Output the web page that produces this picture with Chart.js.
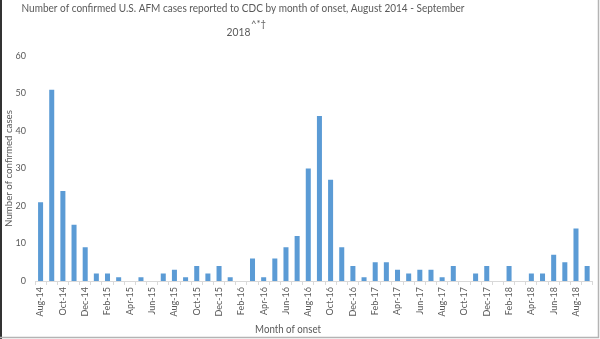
<!DOCTYPE html>
<html>
<head>
<meta charset="utf-8">
<script src="https://cdn.jsdelivr.net/npm/chart.js@4"></script>
<style>
  html, body { margin: 0; padding: 0; background: #fff; }
  #wrap { position: relative; width: 600px; height: 339px; }
</style>
</head>
<body>
<div id="wrap"><canvas id="afmChart"></canvas></div>
<script>
// Aug 2014 .. Sep 2018, one bar per month
const months = [
  "Aug-14", "Sep-14", "Oct-14", "Nov-14", "Dec-14",
  "Jan-15", "Feb-15", "Mar-15", "Apr-15", "May-15", "Jun-15", "Jul-15", "Aug-15", "Sep-15", "Oct-15", "Nov-15", "Dec-15",
  "Jan-16", "Feb-16", "Mar-16", "Apr-16", "May-16", "Jun-16", "Jul-16", "Aug-16", "Sep-16", "Oct-16", "Nov-16", "Dec-16",
  "Jan-17", "Feb-17", "Mar-17", "Apr-17", "May-17", "Jun-17", "Jul-17", "Aug-17", "Sep-17", "Oct-17", "Nov-17", "Dec-17",
  "Jan-18", "Feb-18", "Mar-18", "Apr-18", "May-18", "Jun-18", "Jul-18", "Aug-18", "Sep-18"
];
const cases = [
  21, 51, 24, 15, 9,
  2, 2, 1, 0, 1, 0, 2, 3, 1, 4, 2, 4,
  1, 0, 6, 1, 6, 9, 12, 30, 44, 27, 9, 4,
  1, 5, 5, 3, 2, 3, 3, 1, 4, 0, 2, 4,
  0, 4, 0, 2, 2, 7, 5, 14, 4
];
const yTicks = [0, 10, 20, 30, 40, 50, 60];

const titleLine1 = "Number of confirmed U.S. AFM cases reported to CDC by month of onset, August 2014 - September";
const titleLine2 = "2018";
const titleSup = "^*\u2020";
const xTitle = "Month of onset";
const yTitle = "Number of confirmed cases";

const textColor = "#595959";
const fontFamily = "Lato, 'Open Sans', sans-serif";

// draw text centred at cx, squeezed horizontally (Lato is wider than the original's Calibri)
function narrowText(c, str, cx, cy, font, sx) {
  c.save();
  c.font = font;
  c.textAlign = "center";
  c.textBaseline = "middle";
  c.translate(cx, cy);
  c.scale(sx, 1);
  c.fillText(str, 0, 0);
  c.restore();
}

// title, x axis title and frame drawn by hand so they sit where the original has them
const decorPlugin = {
  id: "decor",
  afterDraw(chart) {
    const c = chart.ctx;
    const big = "11.8px " + fontFamily;
    const sup = "9.5px " + fontFamily;
    c.save();
    c.fillStyle = textColor;
    narrowText(c, titleLine1, 243, 8, big, 0.85);

    c.font = big;
    const w2 = c.measureText(titleLine2).width * 0.87;
    c.font = sup;
    const ws = c.measureText(titleSup).width;
    const x0 = 246 - (w2 + ws) / 2;
    narrowText(c, titleLine2, x0 + w2 / 2, 32, big, 0.87);
    narrowText(c, titleSup, x0 + w2 + 0.5 + ws / 2, 24, sup, 1);

    narrowText(c, xTitle, 288, 329, "11px " + fontFamily, 0.88);

    // frame
    c.strokeStyle = "#333";
    c.lineWidth = 2;
    c.beginPath();
    c.moveTo(1, 0);
    c.lineTo(1, 339);
    c.stroke();
    c.strokeStyle = "#b4b4b4";
    c.lineWidth = 1.5;
    c.beginPath();
    c.moveTo(0, 337.5);
    c.lineTo(598.5, 337.5);
    c.lineTo(598.5, 0);
    c.stroke();
    c.restore();
  }
};

new Chart(document.getElementById("afmChart"), {
  type: "bar",
  data: {
    labels: months,
    datasets: [{
      label: "Cases",
      data: cases,
      backgroundColor: "#5b9bd5",
      borderWidth: 0,
      barPercentage: 0.45,
      categoryPercentage: 1.0
    }]
  },
  options: {
    responsive: true,
    maintainAspectRatio: false,
    animation: false,
    layout: { padding: { top: 56, right: 6, left: 0, bottom: 0 } },
    plugins: {
      legend: { display: false },
      title: { display: false },
      tooltip: { enabled: false }
    },
    scales: {
      x: {
        afterFit: (s) => { s.height = 58; },
        grid: {
          offset: true,
          drawOnChartArea: false,
          drawTicks: true,
          tickLength: 4,
          color: "#d9d9d9"
        },
        border: { color: "#d9d9d9", width: 1 },
        ticks: {
          autoSkip: false,
          maxRotation: 90,
          minRotation: 90,
          padding: 2,
          color: textColor,
          font: { family: fontFamily, size: 9 },
          callback: (val, i) => (i % 2 === 0 ? months[i] : "")
        }
      },
      y: {
        min: yTicks[0],
        max: yTicks[yTicks.length - 1],
        afterFit: (s) => { s.width = 35; },
        afterBuildTicks: (s) => { s.ticks = yTicks.map((v) => ({ value: v })); },
        grid: { display: false, drawTicks: false },
        border: { display: false },
        ticks: {
          padding: 9,
          color: textColor,
          font: { family: fontFamily, size: 9 }
        },
        title: {
          display: true,
          text: yTitle,
          color: textColor,
          padding: { top: 3.5, bottom: 0 },
          font: { family: fontFamily, size: 9.7 }
        }
      }
    }
  },
  plugins: [decorPlugin]
});
</script>
</body>
</html>
